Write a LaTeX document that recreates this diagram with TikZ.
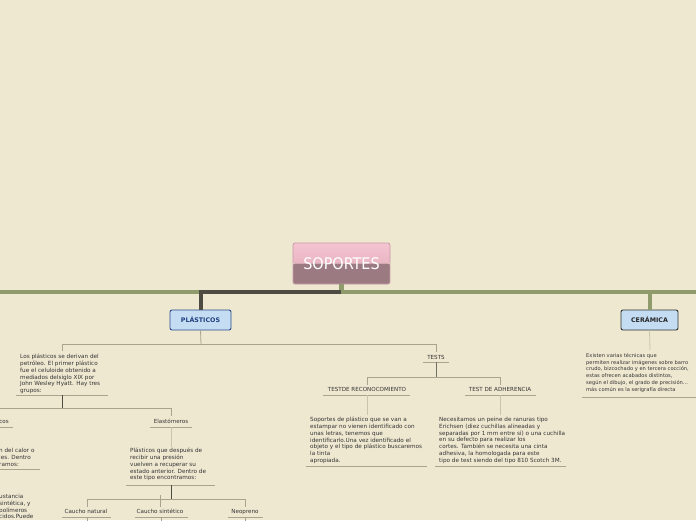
\documentclass[tikz,border=0pt]{standalone}
\usepackage{fontspec}
\setmainfont{DejaVu Sans}
\newfontfamily\rootfont{DejaVu Sans Condensed}
\usetikzlibrary{calc}
\definecolor{bgc}{HTML}{EFE8D1}
\definecolor{grn}{HTML}{8F9B6B}
\definecolor{drk}{HTML}{4D4B42}
\definecolor{thin}{HTML}{A9A48F}
\definecolor{thinl}{HTML}{C9C4AE}
\definecolor{txt}{HTML}{333333}
\definecolor{bluef}{HTML}{C4DDF2}
\definecolor{blueb}{HTML}{2B4C8C}
\definecolor{bluet}{HTML}{1F3F80}
\definecolor{pinkt}{HTML}{F4C4D1}
\definecolor{pinkm}{HTML}{DFA6B6}
\definecolor{mauve}{HTML}{9C7A82}
\definecolor{pinkb}{HTML}{C99AA8}
\tikzset{
  body/.style={anchor=north west,inner sep=0pt,align=left,text=txt,font=\fontsize{5.7}{6.75}\selectfont},
  lbl/.style={anchor=base,inner sep=0pt,text=txt,font=\fontsize{5.6}{6}\selectfont},
  topic/.style={draw,rounded corners=2pt,fill=bluef,line width=0.9pt,minimum width=#1,minimum height=20pt,inner sep=0pt,font=\fontsize{6.3}{7}\selectfont\bfseries},
  tl/.style={draw=thin,line width=0.8pt},
  tll/.style={draw=thinl,line width=0.8pt},
  ul/.style={draw=thin,line width=0.8pt},
}
\begin{document}
\begin{tikzpicture}[x=1pt,y=-1pt]
\fill[bgc] (0,0) rectangle (696,520);
\useasboundingbox (0,0) rectangle (696,520);
\begin{scope}
\clip (0,0) rectangle (696,520);
% root
\node[minimum width=97pt,minimum height=41pt,inner sep=0pt,rounded corners=2pt,
  path picture={
    \shade[top color=pinkt,bottom color=pinkm] (path picture bounding box.north west) rectangle (path picture bounding box.east);
    \fill[mauve] (path picture bounding box.west) rectangle (path picture bounding box.south east);
  },draw=pinkb,line width=0.8pt,text=white,font=\rootfont\fontsize{16}{18}\selectfont] (root) at (341.5,263.5) {SOPORTES};
% main green line
\coordinate (gl) at (-5,292);
\coordinate (gr) at (701,292);
\draw[grn,line width=4pt] (gl) -- (gr);
\coordinate (rj) at (341,292);
\draw[grn,line width=5pt] (root.south -| rj) -- (rj);
% topics
\node[topic=61pt,draw=blueb,text=bluet] (plast) at (200.5,320) {PLÁSTICOS};
\node[topic=57pt,draw=black!80,text=black!85] (ceram) at (649.5,320) {CERÁMICA};
\draw[drk,line width=4pt] (rj) -| (plast.north);
\draw[grn,line width=4pt] (ceram.north |- gl) -- (ceram.north);

% PLASTICOS subtree
\coordinate (pj) at (201,344);
\draw[tl] (plast.south) -- (pj);
\coordinate (pjl) at (62,344);
\coordinate (pjr) at (436,344);
\draw[tl] (pjl) -- (pjr);
\node[body] (tplast) at (20,354) {Los plásticos se derivan del\\petróleo. El primer plástico\\fue el celuloide obtenido a\\mediados delsiglo XIX por\\John Wesley Hyatt. Hay tres\\grupos:};
\coordinate (tpu) at (62,395);
\draw[ul] (16,395) -- (108,395);
\draw[tl] (pjl) -- (62,351);
\coordinate (ej) at (62,408);
\draw[drk,line width=0.9pt] (tpu) -- (ej);
\coordinate (ejl) at (-5,408);
\coordinate (ejr) at (171,408);
\draw[tl] (ejl) -- (ejr);
\draw[tl] (ejr) -- (171,416);
\node[lbl] (term) at (4,423.5) {cos};
\draw[ul] (-2,427) -- (13,427);
\node[lbl] (elast) at (171,423.5) {Elastómeros};
\draw[ul] (150,427) -- (192,427);
\draw[tll] (171,427) -- (171,447);
\node[body,anchor=north west] (termtext) at (-1,448) {n del calor o\\les. Dentro\\ramos:};
\draw[ul] (-2,469) -- (40,469);
\node[body] (elasttext) at (130,448) {Plásticos que después de\\recibir una presión\\vuelven a recuperar su\\estado anterior. Dentro de\\este tipo encontramos:};
\draw[ul] (126,485) -- (215,485);
\node[body] (termtext2) at (-1,494) {ustancia\\sintética, y\\ polímeros\\cidos.Puede};
\coordinate (cj) at (171,499);
\draw[drk,line width=0.9pt] (171,485) -- (cj);
\draw[tl] (87,499) -- (245,499);
\draw[tl] (87,499) -- (87,507);
\draw[tl] (160,495) -- (160,507);
\draw[tl] (245,499) -- (245,507);
\node[lbl] (cn) at (86,513) {Caucho natural};
\node[lbl] (cs) at (160,513) {Caucho sintético};
\node[lbl] (neo) at (245,513) {Neopreno};
\draw[ul] (62,517) -- (111,517);
\draw[ul] (135,517) -- (188,517);
\draw[ul] (228,517) -- (263,517);
\draw[tl] (87,517) -- (87,525);
\draw[tl] (161,517) -- (161,525);
\draw[tl] (245,517) -- (245,525);

% TESTS
\draw[tl] (pjr) -- (436,352);
\node[lbl] (tests) at (436,359) {TESTS};
\draw[ul] (423,362) -- (449,362);
\coordinate (tj) at (436,377);
\draw[drk!80,line width=0.9pt] (436,362) -- (tj);
\draw[tl] (367,377) -- (500,377);
\draw[tl] (367,377) -- (367,385);
\draw[tl] (500,377) -- (500,385);
\node[lbl] (trec) at (367,391) {TESTDE RECONOCOMIENTO};
\node[lbl] (tadh) at (500,391) {TEST DE ADHERENCIA};
\draw[ul] (323,395) -- (410,395);
\draw[ul] (465,395) -- (536,395);
\draw[tll] (367,395) -- (367,415);
\draw[tll] (500,395) -- (500,415);
\node[body] (trectext) at (310,417) {Soportes de plástico que se van a\\estampar no vienen identificado con\\unas letras, tenemos que\\identificarlo.Una vez identificado el\\objeto y el tipo de plástico buscaremos\\la tinta\\apropiada.};
\node[body] (tadhtext) at (439,417) {Necesitamos un peine de ranuras tipo\\Erichsen (diez cuchillas alineadas y\\separadas por 1 mm entre sí) o una cuchilla\\en su defecto para realizar los\\cortes. También se necesita una cinta\\adhesiva, la homologada para este\\tipo de test siendo del tipo 810 Scotch 3M.};
\draw[ul] (306,466) -- (427,466);
\draw[ul] (435,466) -- (566,466);

% CERAMICA
\draw[tll] (ceram.south) -- (650,350);
\node[body,font=\fontsize{5.15}{6.75}\selectfont] (certext) at (586,353) {Existen varias técnicas que\\permiten realizar imágenes sobre barro\\crudo, bizcochado y en tercera cocción,\\estas ofrecen acabados distintos,\\según el dibujo, el grado de precisión...\\más común es la serigrafía directa};
\draw[ul] (582,397) -- (700,397);
\end{scope}
\end{tikzpicture}
\end{document}
